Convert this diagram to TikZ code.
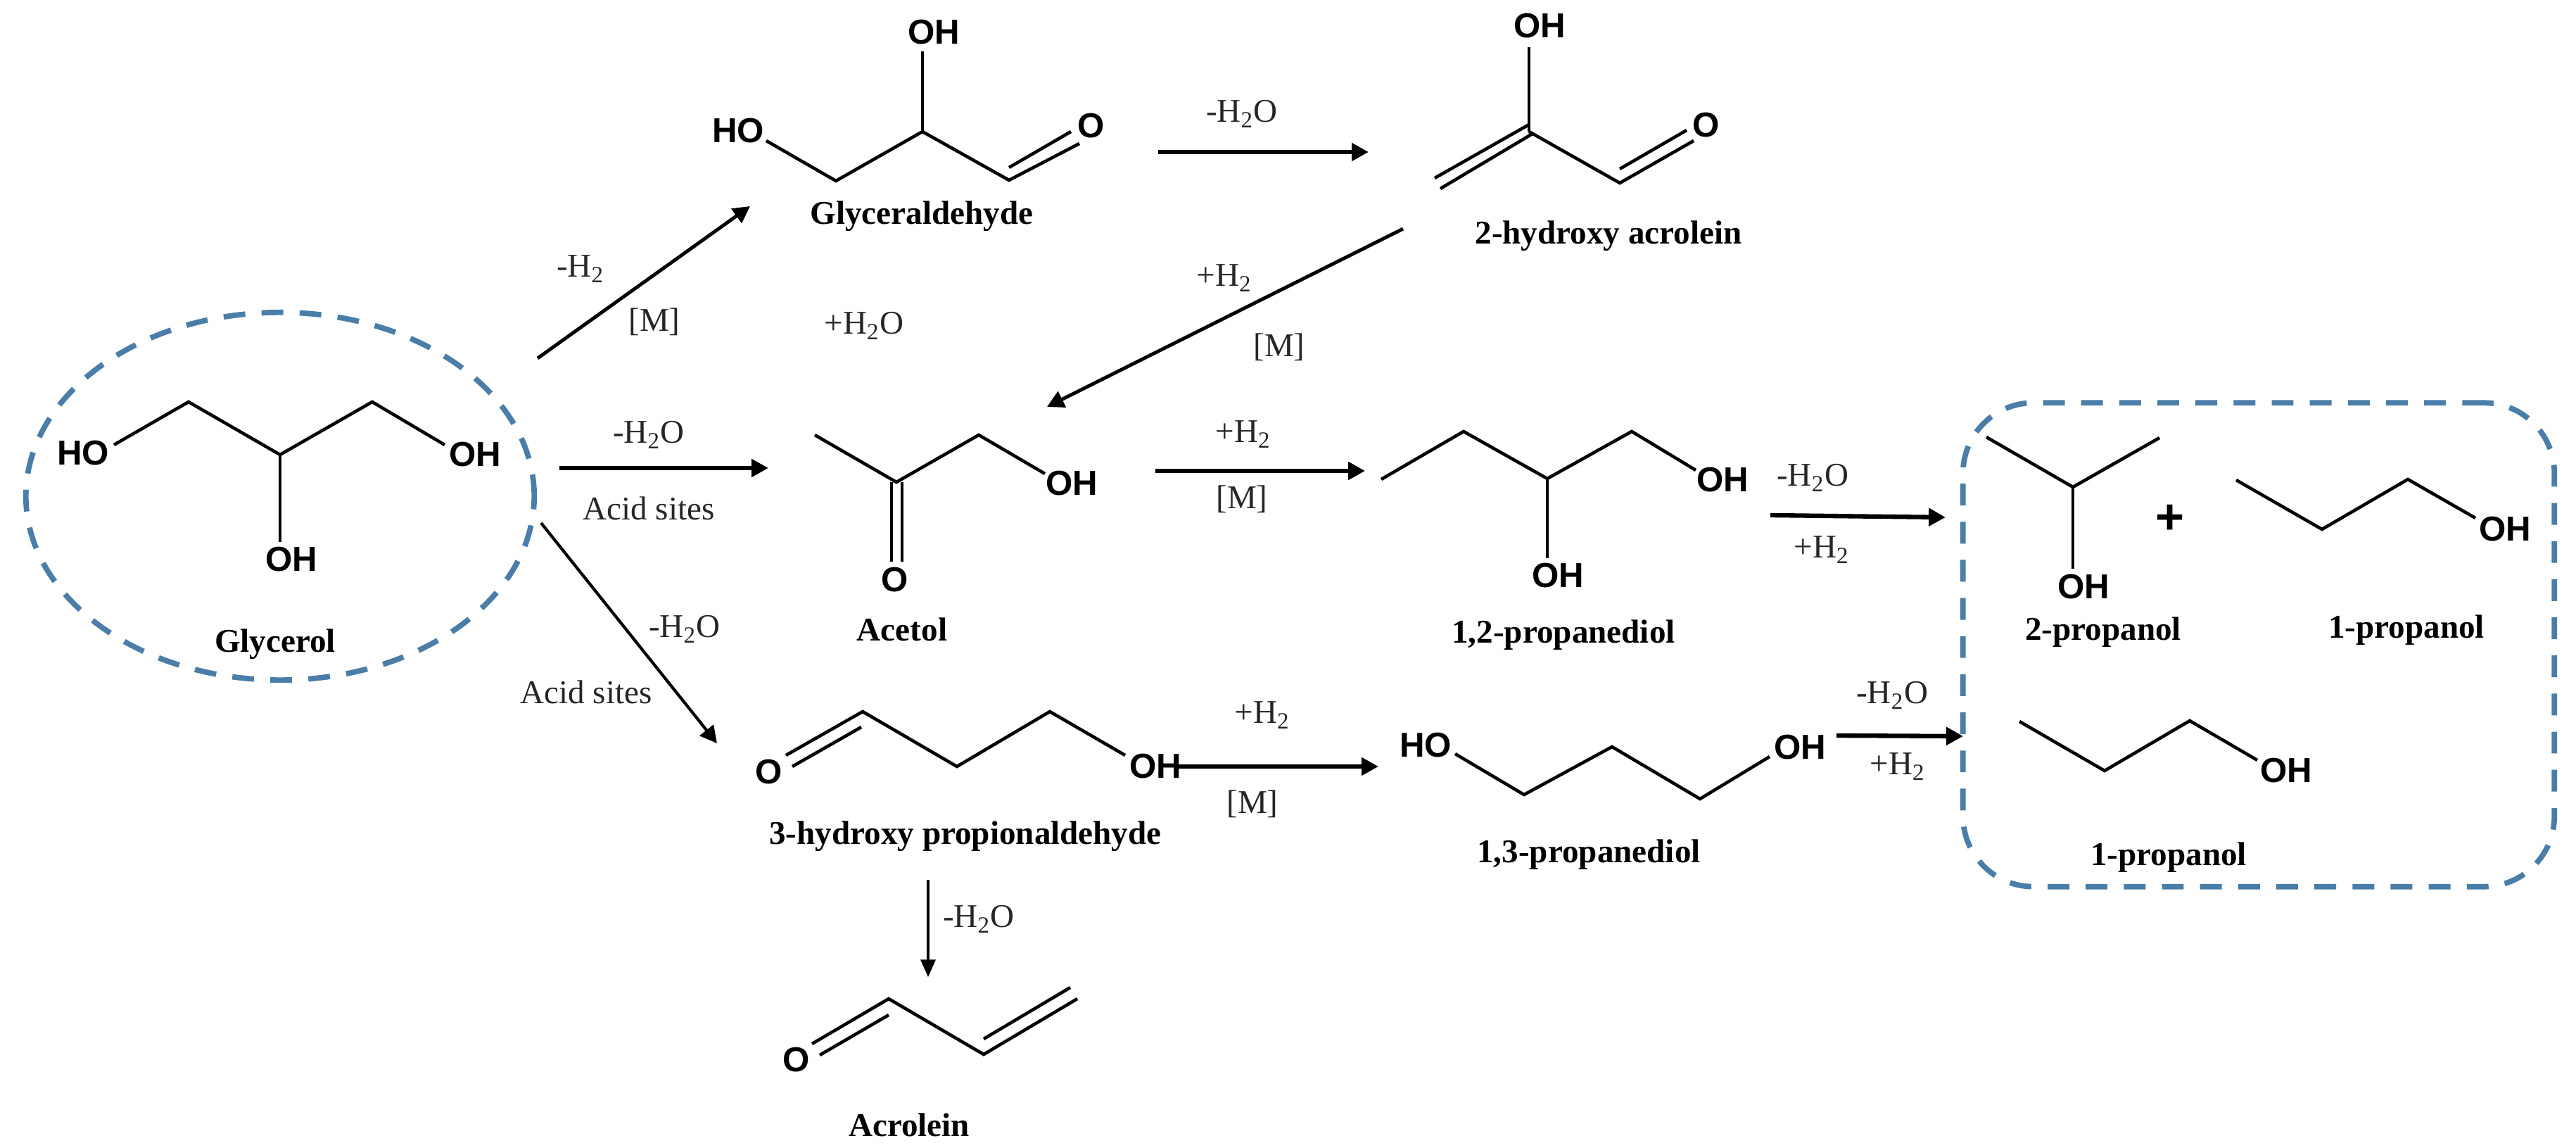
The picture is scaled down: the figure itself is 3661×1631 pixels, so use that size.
\documentclass[tikz,border=0pt]{standalone}
\usepackage{fontspec}
\setmainfont{Liberation Serif}
\newfontfamily\atomfont{Liberation Sans}
\usetikzlibrary{arrows.meta,shapes.geometric}
\definecolor{ringblue}{HTML}{4A7EA8}
\newcommand{\water}{H\textsubscript{2}O}
\newcommand{\hydrogen}{H\textsubscript{2}}
\tikzset{
  bond/.style={line width=1.3pt},
  rxn/.style={line width=1.8pt,-{Triangle[length=6.8pt,width=7pt]}},
  thinrxn/.style={line width=0.9pt,-{Triangle[length=7pt,width=6pt]}},
  atom/.style={inner sep=0pt,font=\fontsize{14}{16}\atomfont\bfseries},
  title/.style={inner sep=0pt,font=\fontsize{13.4}{16}\selectfont\bfseries},
  cond/.style={inner sep=0pt,text=black!85,font=\fontsize{13.4}{16}\selectfont},
  ring/.style={draw=ringblue,line width=2.2pt,dash pattern=on 8.8pt off 6.6pt,inner sep=0pt}
}
\begin{document}
\begin{tikzpicture}[x=0.01cm,y=-0.01cm]
\useasboundingbox (0,0) rectangle (3661,1631);

\node [ring,ellipse,minimum width=7.22cm,minimum height=5.22cm] (glycring) at (398,705) {};
\node [ring,rectangle,rounded corners=1cm,minimum width=8.4cm,minimum height=6.87cm] (prodbox) at (3210,916) {};

% glycerol
\draw [bond] (162,632) -- (268,571) -- (398,646) -- (529,571) -- (632,632);
\draw [bond] (398,646) -- (398,770);
\node [atom] (glyc1) at (118,644) {HO};
\node [atom] (glyc2) at (675,646) {OH};
\node [atom] (glyc3) at (414,795) {OH};
\node [title] (glycname) at (391,915) {Glycerol};

% glyceraldehyde
\draw [bond] (1089,200) -- (1188,257) -- (1311,187) -- (1434,256) -- (1534,204);
\draw [bond] (1311,187) -- (1311,73);
\draw [bond] (1434,238) -- (1522,187);
\node [atom] (gald1) at (1049,186) {HO};
\node [atom] (gald2) at (1327,46) {OH};
\node [atom] (gald3) at (1551,179) {O};
\node [title] (galdname) at (1310,307) {Glyceraldehyde};

% 2-hydroxy acrolein
\draw [bond] (2173,187) -- (2302,260) -- (2407,200);
\draw [bond] (2302,240) -- (2397,185);
\draw [bond] (2173,187) -- (2173,67);
\draw [bond] (2173,177) -- (2039,253);
\draw [bond] (2178,190) -- (2047,268);
\node [atom] (hacr1) at (2188,37) {OH};
\node [atom] (hacr2) at (2425,178) {O};
\node [title] (hacrname) at (2286,335) {2-hydroxy acrolein};

% acetol
\draw [bond] (1158,618) -- (1274,685) -- (1391,618) -- (1485,673);
\draw [bond] (1267,685) -- (1267,798);
\draw [bond] (1282,685) -- (1282,798);
\node [atom] (acet1) at (1523,687) {OH};
\node [atom] (acet2) at (1272,824) {O};
\node [title] (acetname) at (1282,894) {Acetol};

% 1,2-propanediol
\draw [bond] (1963,681) -- (2080,613) -- (2199,680) -- (2319,613) -- (2410,668);
\draw [bond] (2199,680) -- (2199,793);
\node [atom] (pd12a) at (2448,682) {OH};
\node [atom] (pd12b) at (2214,818) {OH};
\node [title] (pd12name) at (2222,902) {1,2-propanediol};

% 3-hydroxy propionaldehyde
\draw [bond] (1126,1089) -- (1224,1033);
\draw [bond] (1117,1073) -- (1226,1011) -- (1360,1089) -- (1492,1011) -- (1599,1073);
\node [atom] (hpa1) at (1093,1097) {O};
\node [atom] (hpa2) at (1642,1089) {OH};
\node [title] (hpaname) at (1372,1188) {3-hydroxy propionaldehyde};

% acrolein
\draw [bond] (1165,1499) -- (1263,1442);
\draw [bond] (1154,1483) -- (1263,1419) -- (1398,1498) -- (1531,1419);
\draw [bond] (1398,1476) -- (1521,1403);
\node [atom] (acro1) at (1132,1506) {O};
\node [title] (aconame) at (1292,1598) {Acrolein};

% 1,3-propanediol
\draw [bond] (2068,1071) -- (2166,1129) -- (2291,1061) -- (2416,1135) -- (2515,1075);
\node [atom] (pd13a) at (2026,1059) {HO};
\node [atom] (pd13b) at (2558,1062) {OH};
\node [title] (pd13name) at (2258,1214) {1,3-propanediol};

% products
\draw [bond] (2823,621) -- (2946,692) -- (3069,622);
\draw [bond] (2946,692) -- (2946,808);
\node [atom] (ipa) at (2961,834) {OH};
\node [title] (ipaname) at (2989,898) {2-propanol};
\node [font=\fontsize{20}{20}\atomfont\bfseries,inner sep=0pt] (plus) at (3084,738) {+};
\draw [bond] (3178,682) -- (3300,752) -- (3422,681) -- (3518,736);
\node [atom] (npa1) at (3560,752) {OH};
\node [title] (npa1name) at (3420,895) {1-propanol};
\draw [bond] (2870,1025) -- (2991,1095) -- (3112,1024) -- (3208,1080);
\node [atom] (npa2) at (3249,1095) {OH};
\node [title] (npa2name) at (3082,1218) {1-propanol};

% reaction arrows
\coordinate (a1s) at (764,509);   \coordinate (a1e) at (1066,293);
\coordinate (a2s) at (795,665);   \coordinate (a2e) at (1092,665);
\coordinate (a3s) at (769,743);   \coordinate (a3e) at (1019,1056);
\coordinate (a4s) at (1646,216);  \coordinate (a4e) at (1945,216);
\coordinate (a5s) at (1994,325);  \coordinate (a5e) at (1488,578);
\coordinate (a6s) at (1642,669);  \coordinate (a6e) at (1940,669);
\coordinate (a7s) at (2516,732);  \coordinate (a7e) at (2765,735);
\coordinate (a8s) at (1669,1089); \coordinate (a8e) at (1959,1089);
\coordinate (a9s) at (2610,1045); \coordinate (a9e) at (2790,1046);
\coordinate (a10s) at (1319,1250); \coordinate (a10e) at (1319,1388);
\draw [rxn,line width=1.4pt] (a1s) -- (a1e);
\draw [rxn] (a2s) -- (a2e);
\draw [rxn,line width=1.2pt] (a3s) -- (a3e);
\draw [rxn] (a4s) -- (a4e);
\draw [rxn,line width=1.4pt] (a5s) -- (a5e);
\draw [rxn] (a6s) -- (a6e);
\draw [rxn] (a7s) -- (a7e);
\draw [rxn] (a8s) -- (a8e);
\draw [rxn] (a9s) -- (a9e);
\draw [thinrxn] (a10s) -- (a10e);

% conditions
\node [cond] (c1) at (825,382) {-\hydrogen};
\node [cond] (c2) at (930,457) {[M]};
\node [cond] (c3) at (1228,463) {+\water};
\node [cond] (c4) at (922,618) {-\water};
\node [cond] (c5) at (922,722) {Acid sites};
\node [cond] (c6) at (973,894) {-\water};
\node [cond] (c7) at (833,983) {Acid sites};
\node [cond] (c8) at (1765,162) {-\water};
\node [cond] (c9) at (1740,395) {+\hydrogen};
\node [cond] (c10) at (1818,493) {[M]};
\node [cond] (c11) at (1767,617) {+\hydrogen};
\node [cond] (c12) at (1765,709) {[M]};
\node [cond] (c13) at (2576,679) {-\water};
\node [cond] (c14) at (2589,781) {+\hydrogen};
\node [cond] (c15) at (1794,1016) {+\hydrogen};
\node [cond] (c16) at (1780,1142) {[M]};
\node [cond] (c17) at (1391,1306) {-\water};
\node [cond] (c18) at (2689,988) {-\water};
\node [cond] (c19) at (2697,1089) {+\hydrogen};

\end{tikzpicture}
\end{document}
